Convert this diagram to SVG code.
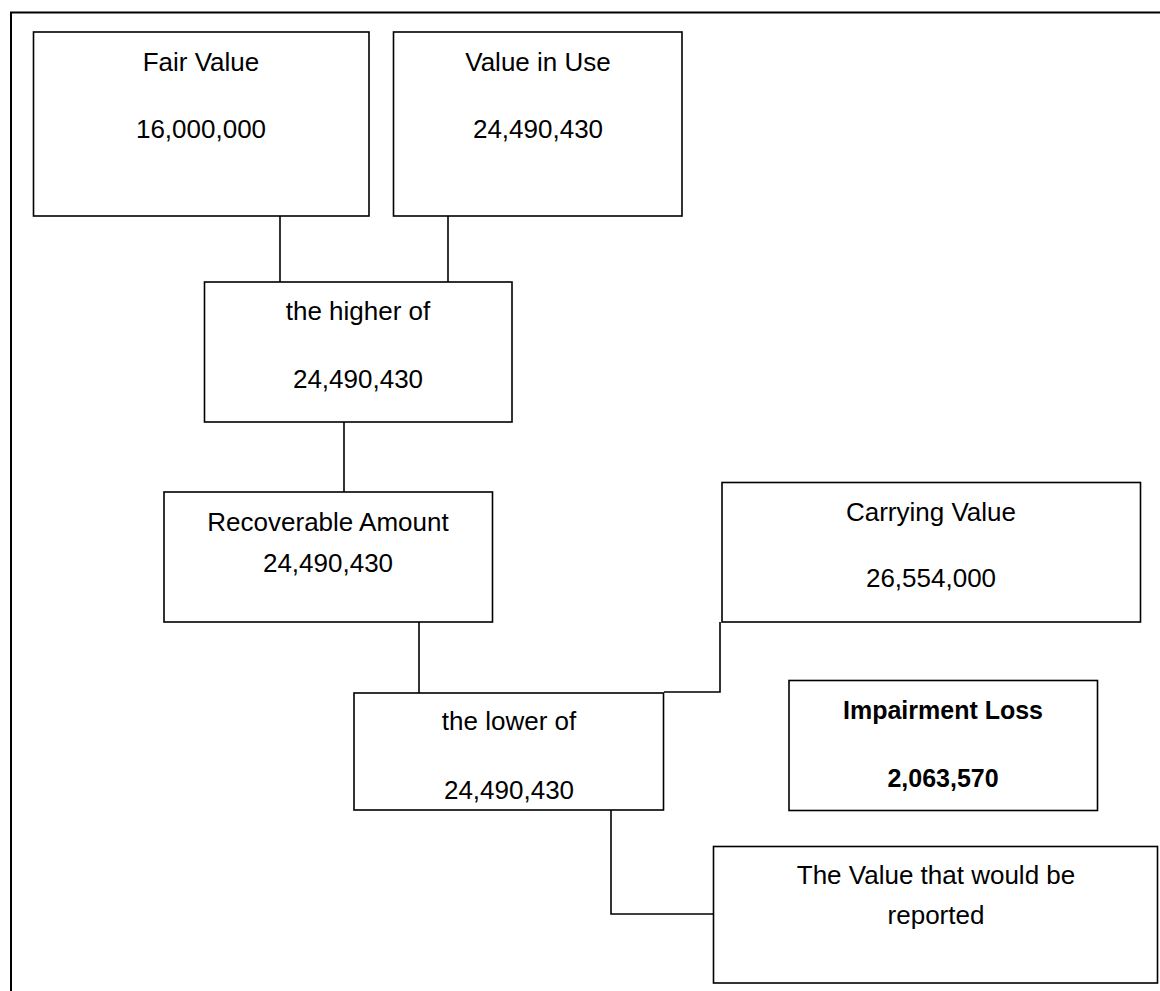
<svg xmlns="http://www.w3.org/2000/svg" width="1160" height="991" viewBox="0 0 1160 991">
<style>
.box{fill:#fff;stroke:#000;stroke-width:1.6}
.t{font-family:"Liberation Sans",Arial,sans-serif;font-size:26px;fill:#000;text-anchor:middle}
.b{font-weight:bold;font-size:25px}
.c{fill:none;stroke:#000;stroke-width:1.6}
</style>
<rect width="1160" height="991" fill="#fff"/>
<path d="M11,1000 V12.5 H1170" fill="none" stroke="#000" stroke-width="2"/>
<g id="connectors">
<path class="c" d="M280,216 V282"/>
<path class="c" d="M448,216 V282"/>
<path class="c" d="M344,422 V492"/>
<path class="c" d="M419,622 V693"/>
<path class="c" d="M720,622 V692 H664"/>
<path class="c" d="M611,810 V914 H713"/>
</g>
<g id="fair-value">
<rect class="box" x="33.5" y="32" width="335.5" height="184"/>
<text class="t" x="201" y="71">Fair Value</text>
<text class="t" x="201" y="138">16,000,000</text>
</g>
<g id="value-in-use">
<rect class="box" x="393.5" y="32" width="288.5" height="184"/>
<text class="t" x="538" y="71">Value in Use</text>
<text class="t" x="538" y="138">24,490,430</text>
</g>
<g id="higher-of">
<rect class="box" x="204.5" y="282" width="307.5" height="140"/>
<text class="t" x="358" y="320">the higher of</text>
<text class="t" x="358" y="388">24,490,430</text>
</g>
<g id="recoverable-amount">
<rect class="box" x="164" y="492" width="328.5" height="130"/>
<text class="t" x="328" y="531">Recoverable Amount</text>
<text class="t" x="328" y="572">24,490,430</text>
</g>
<g id="carrying-value">
<rect class="box" x="722" y="482.5" width="418.5" height="139.5"/>
<text class="t" x="931" y="521">Carrying Value</text>
<text class="t" x="931" y="587">26,554,000</text>
</g>
<g id="lower-of">
<rect class="box" x="354" y="693" width="309.5" height="117"/>
<text class="t" x="509" y="730">the lower of</text>
<text class="t" x="509" y="799">24,490,430</text>
</g>
<g id="impairment-loss">
<rect class="box" x="789" y="680.5" width="308.5" height="130"/>
<text class="t b" x="943" y="719">Impairment Loss</text>
<text class="t b" x="943" y="787">2,063,570</text>
</g>
<g id="value-reported">
<rect class="box" x="713.5" y="846.5" width="444" height="136.5"/>
<text class="t" x="936" y="884">The Value that would be</text>
<text class="t" x="936" y="924">reported</text>
</g>
</svg>
